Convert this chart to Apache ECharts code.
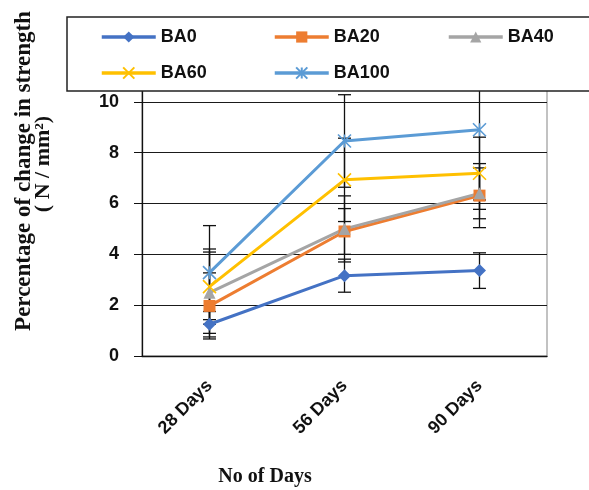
<!DOCTYPE html>
<html>
<head>
<meta charset="utf-8">
<script src="https://cdn.jsdelivr.net/npm/echarts@6/dist/echarts.min.js"></script>
<style>html,body{margin:0;padding:0;background:#fff}#c{width:589px;height:490px}</style>
</head>
<body>
<div id="c"></div>
<script>
const categories = ['28 Days', '56 Days', '90 Days'];
const seriesNames = ['BA0', 'BA20', 'BA40', 'BA60', 'BA100'];
const BA0 = [1.25, 3.16, 3.36];
const BA20 = [1.97, 4.90, 6.31];
const BA40 = [2.49, 5.00, 6.40];
const BA60 = [2.73, 6.93, 7.19];
const BA100 = [3.28, 8.46, 8.90];
const BA0_err = [0.50, 0.65, 0.70];
const BA20_err = [1.30, 0.90, 1.26];
const BA40_err = [1.60, 1.30, 1.00];
const BA60_err = [1.48, 1.64, 1.42];
const BA100_err = [1.85, 1.82, 2.76];
const yTicks = [0, 2, 4, 6, 8, 10, 12];

const values = [BA0, BA20, BA40, BA60, BA100];
const errors = [BA0_err, BA20_err, BA40_err, BA60_err, BA100_err];
const colors = ['#4472C4', '#ED7D31', '#A5A5A5', '#FFC000', '#5B9BD5'];
const symbols = ['diamond', 'rect', 'triangle',
  'path://M0,0L10,10M10,0L0,10',
  'path://M0,0L10,10M10,0L0,10M5,0L5,10'];
const symSizes = [13, 12, 12, 13, 13];

const chart = echarts.init(document.getElementById('c'), null, {renderer: 'canvas'});
const tickFont = 'Liberation Sans, Arial, sans-serif';
const serif = 'Liberation Serif, Times New Roman, serif';

const series = [];
values.forEach((vals, i) => {
  series.push({
    type: 'custom',
    name: seriesNames[i] + ' err',
    z: 1,
    silent: true,
    data: vals.map((v, k) => [k, v, errors[i][k]]),
    renderItem: function (params, api) {
      const x = api.value(0), y = api.value(1), e = api.value(2);
      const top = api.coord([x, y + e]);
      const bot = api.coord([x, y - e]);
      const hw = 6.5;
      const st = {stroke: '#111', lineWidth: 1.3};
      return {type: 'group', children: [
        {type: 'line', shape: {x1: top[0], y1: top[1], x2: bot[0], y2: bot[1]}, style: st},
        {type: 'line', shape: {x1: top[0] - hw, y1: top[1], x2: top[0] + hw, y2: top[1]}, style: st},
        {type: 'line', shape: {x1: bot[0] - hw, y1: bot[1], x2: bot[0] + hw, y2: bot[1]}, style: st}
      ]};
    }
  });
});
values.forEach((vals, i) => {
  const isPath = i >= 3;
  series.push({
    type: 'line',
    name: seriesNames[i],
    z: 3,
    data: vals,
    symbol: symbols[i],
    symbolSize: symSizes[i],
    showAllSymbol: true,
    lineStyle: {color: colors[i], width: 3},
    itemStyle: isPath ? {color: colors[i], borderColor: colors[i], borderWidth: 1.6}
                      : {color: colors[i], borderWidth: 0},
    emphasis: {disabled: true},
    animation: false
  });
});

const legendPos = [[100, 28], [273, 28], [447, 28], [100, 64], [273, 64]];
const legends = seriesNames.map((n, i) => ({
  data: [n],
  left: legendPos[i][0],
  top: legendPos[i][1],
  padding: 0,
  itemWidth: 54,
  itemHeight: 14,
  itemGap: 5,
  z: 110,
  selectedMode: false,
  lineStyle: {width: 3.5},
  textStyle: {fontFamily: tickFont, fontWeight: 'bold', fontSize: 18, color: '#111', padding: [2, 0, 0, 0]}
}));

chart.setOption({
  animation: false,
  backgroundColor: '#fff',
  color: colors,
  legend: legends,
  grid: {left: 142, right: 42, top: 51, bottom: 134, show: true, borderColor: '#9a9a9a', borderWidth: 1.2, backgroundColor: 'transparent'},
  xAxis: {
    type: 'category',
    data: categories,
    boundaryGap: true,
    axisLine: {lineStyle: {color: '#111', width: 1.3}},
    axisTick: {inside: true, length: 9, lineStyle: {color: '#111'}},
    axisLabel: {rotate: 45, margin: 27, fontFamily: tickFont, fontWeight: 'bold', fontSize: 18, color: '#111'}
  },
  yAxis: {
    type: 'value',
    min: yTicks[0],
    max: yTicks[yTicks.length - 1],
    interval: 2,
    axisLine: {show: true, lineStyle: {color: '#111', width: 1.3}},
    axisTick: {show: true, inside: false, length: 8, lineStyle: {color: '#111'}},
    splitLine: {lineStyle: {color: '#1a1a1a', width: 1.1}},
    axisLabel: {margin: 23, fontFamily: tickFont, fontWeight: 'bold', fontSize: 18, color: '#111'}
  },
  graphic: [
    {type: 'rect', z: 100, shape: {x: 67, y: 17, width: 540, height: 74}, style: {fill: '#fff', stroke: '#222', lineWidth: 1.5}},
    {type: 'text', z: 100, x: 265, y: 477, style: {text: 'No of Days', font: 'bold 20px ' + serif, fill: '#111', textAlign: 'center', textVerticalAlign: 'middle'}},
    {type: 'text', z: 100, x: 24, y: 171, rotation: Math.PI / 2, style: {text: 'Percentage of change in strength', font: 'bold 23px ' + serif, fill: '#111', textAlign: 'center', textVerticalAlign: 'middle'}},
    {type: 'text', z: 100, x: 43, y: 164, rotation: Math.PI / 2, style: {text: '( N / mm\u00B2)', font: 'bold 22px ' + serif, fill: '#111', textAlign: 'center', textVerticalAlign: 'middle'}}
  ],
  series: series
});
</script>
</body>
</html>
